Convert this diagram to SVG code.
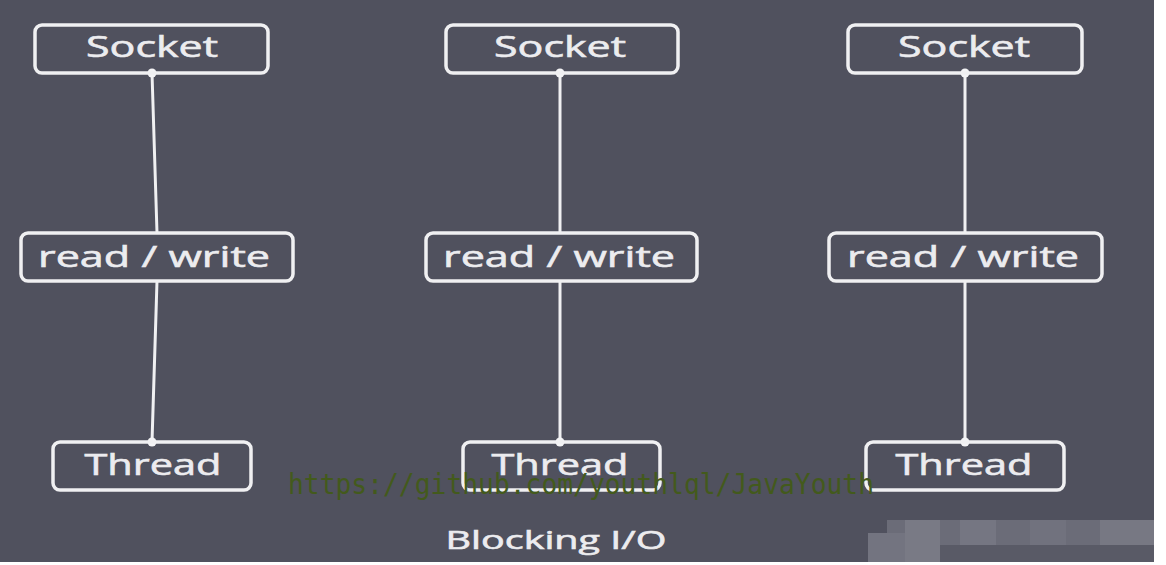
<svg xmlns="http://www.w3.org/2000/svg" width="1166" height="565" viewBox="0 0 1166 565">
<style>
.box{fill:none;stroke:#f0f0f2;stroke-width:3.5}
.lbl{font-family:"Open Sans","Noto Sans",sans-serif;font-size:29px;fill:#ececef;text-anchor:middle;stroke:#ececef;stroke-width:0.6}
.conn{stroke:#f0f0f2;stroke-width:3;fill:none}
.dot{fill:#f4f4f6}
.wm{font-family:"DejaVu Sans Mono","Liberation Mono",monospace;font-size:28px;fill:#435a1c}
</style>
<rect x="0" y="0" width="1166" height="565" fill="#ffffff"/>
<rect x="0" y="0" width="1154" height="562" fill="#50515e"/>
<g id="connectors">
<line class="conn" x1="152" y1="73" x2="157" y2="233"/>
<line class="conn" x1="157" y1="281" x2="152" y2="442"/>
<line class="conn" x1="560" y1="73" x2="560" y2="233"/>
<line class="conn" x1="560" y1="281" x2="560" y2="442"/>
<line class="conn" x1="965" y1="73" x2="965" y2="233"/>
<line class="conn" x1="965" y1="281" x2="965" y2="442"/>
<circle class="dot" cx="152" cy="73" r="4.5"/>
<circle class="dot" cx="152" cy="442" r="4.5"/>
<circle class="dot" cx="560" cy="73" r="4.5"/>
<circle class="dot" cx="560" cy="442" r="4.5"/>
<circle class="dot" cx="965" cy="73" r="4.5"/>
<circle class="dot" cx="965" cy="442" r="4.5"/>
</g>
<g id="socket1"><rect class="box" x="35" y="25" width="233" height="48" rx="7"/><text class="lbl" x="152" y="57" textLength="132" lengthAdjust="spacingAndGlyphs">Socket</text></g>
<g id="rw1"><rect class="box" x="21" y="233" width="272" height="48" rx="7"/><text class="lbl" x="154" y="267" textLength="232" lengthAdjust="spacingAndGlyphs">read / write</text></g>
<g id="thread1"><rect class="box" x="53" y="442" width="198" height="48" rx="7"/><text class="lbl" x="153" y="475" textLength="137" lengthAdjust="spacingAndGlyphs">Thread</text></g>
<g id="socket2"><rect class="box" x="446" y="25" width="232" height="48" rx="7"/><text class="lbl" x="560" y="57" textLength="132" lengthAdjust="spacingAndGlyphs">Socket</text></g>
<g id="rw2"><rect class="box" x="426" y="233" width="271" height="48" rx="7"/><text class="lbl" x="559" y="267" textLength="232" lengthAdjust="spacingAndGlyphs">read / write</text></g>
<g id="thread2"><rect class="box" x="463" y="442" width="197" height="48" rx="7"/><text class="lbl" x="560" y="475" textLength="137" lengthAdjust="spacingAndGlyphs">Thread</text></g>
<g id="socket3"><rect class="box" x="848" y="25" width="234" height="48" rx="7"/><text class="lbl" x="964" y="57" textLength="132" lengthAdjust="spacingAndGlyphs">Socket</text></g>
<g id="rw3"><rect class="box" x="829" y="233" width="273" height="48" rx="7"/><text class="lbl" x="963" y="267" textLength="232" lengthAdjust="spacingAndGlyphs">read / write</text></g>
<g id="thread3"><rect class="box" x="866" y="442" width="198" height="48" rx="7"/><text class="lbl" x="964" y="475" textLength="137" lengthAdjust="spacingAndGlyphs">Thread</text></g>
<text class="lbl" x="556" y="549" style="font-size:25px" textLength="221" lengthAdjust="spacingAndGlyphs">Blocking I/O</text>
<text class="wm" x="288" y="494" textLength="586" lengthAdjust="spacingAndGlyphs">https://github.com/youthlql/JavaYouth</text>
<g id="mosaic" opacity="0.9">
<rect x="887" y="520" width="267" height="25" fill="#6e6f7b"/>
<rect x="868" y="533" width="70" height="29" fill="#777884"/>
<rect x="905" y="520" width="35" height="42" fill="#7e7f8a"/>
<rect x="940" y="545" width="214" height="17" fill="#5a5b67"/>
<rect x="960" y="520" width="36" height="25" fill="#7a7b86"/>
<rect x="1030" y="520" width="36" height="25" fill="#757682"/>
<rect x="1100" y="520" width="54" height="25" fill="#7c7d88"/>
</g>
</svg>
